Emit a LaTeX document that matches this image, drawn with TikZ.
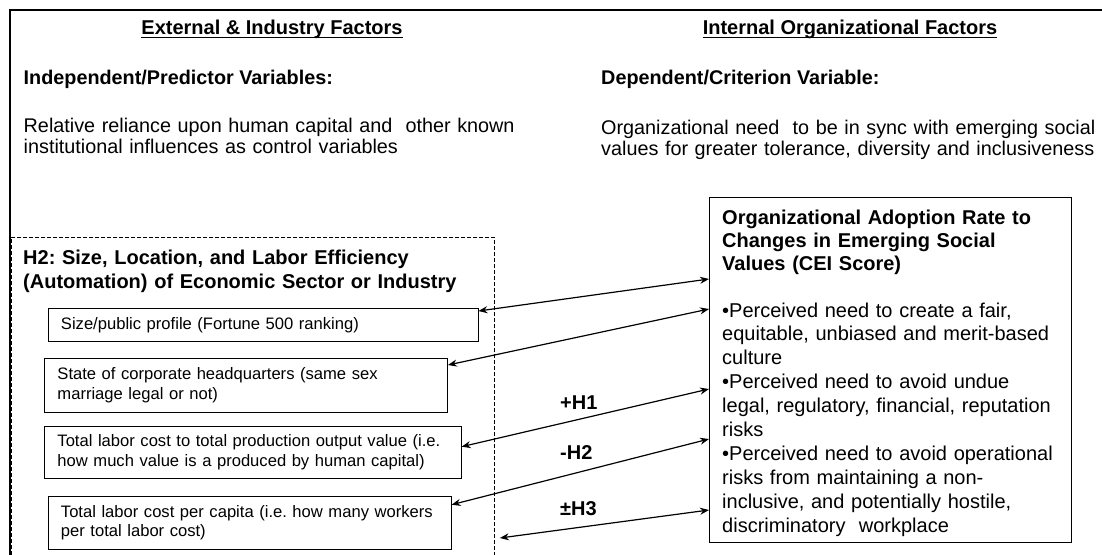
\documentclass[tikz,border=0pt]{standalone}
\usepackage{fontspec}
\setmainfont{Liberation Sans}
\usetikzlibrary{arrows.meta,calc}
\begin{document}
\frenchspacing
\begin{tikzpicture}[x=1pt,y=-1pt,
  txt/.style={anchor=base west, inner sep=0pt, align=left},
  body/.style={txt, font=\fontsize{19.8}{21}\selectfont},
  bodyb/.style={txt, font=\bfseries\fontsize{19.8}{21}\selectfont},
  head/.style={anchor=base, inner sep=0pt, font=\bfseries\fontsize{20}{21}\selectfont},
  ubar/.style={line width=1.2pt},
  frameline/.style={line width=2pt},
  dashbox/.style={draw, line width=0.9pt, dash pattern=on 4pt off 2pt, anchor=north west, inner sep=0pt},
  varbox/.style={draw, line width=0.9pt, anchor=north west, inner xsep=13pt, inner ysep=0pt, align=left, font=\fontsize{16.6}{19.8}\selectfont},
  rbox/.style={draw, line width=1.2pt, anchor=north west, inner sep=0pt},
  rtitle/.style={txt, font=\bfseries\fontsize{20}{23}\selectfont},
  rbody/.style={txt, font=\fontsize{20}{23.9}\selectfont},
  lab/.style={txt, font=\bfseries\fontsize{20}{24}\selectfont},
  biarrow/.style={line width=1.2pt, {Stealth[length=9pt,width=7pt]}-{Stealth[length=9pt,width=7pt]}}
]
\useasboundingbox (0,0) rectangle (1102,554);
\fill[white] (0,0) rectangle (1102,554);
% outer frame
\draw[frameline] (9.5,570) -- (9.5,10) -- (1120,10);

% headings
\node[head] (hext) at (272,34.5) {External \& Industry Factors};
\draw[ubar] ($(hext.base west)+(0,3)$) -- ($(hext.base east)+(0,3)$);
\node[head] (hint) at (850,34.5) {Internal Organizational Factors};
\draw[ubar] ($(hint.base west)+(0,3)$) -- ($(hint.base east)+(0,3)$);

\node[bodyb] (indep) at (23.5,84) {Independent/Predictor Variables:};
\node[body, text width=540pt] (rel) at (23.5,132) {Relative reliance upon human capital and\ \ other known\\institutional influences as control variables};
\node[bodyb] (dep) at (601,84) {Dependent/Criterion Variable:};
\node[body, text width=520pt] (org) at (601,134) {Organizational need\ \ to be in sync with emerging social\\values for greater tolerance, diversity and inclusiveness};

% dashed group box
\node[dashbox, minimum width=483pt, minimum height=340pt] (D) at (11,237) {};
\node[txt, font=\bfseries\fontsize{20}{24}\selectfont, text width=470pt] (h2) at (23,264) {H2: Size, Location, and Labor Efficiency\\(Automation) of Economic Sector or Industry};

% variable boxes
\node[varbox, text width=404pt, minimum height=33pt] (b1) at (47.5,308) {Size/public profile (Fortune 500 ranking)};
\node[varbox, text width=377pt, minimum height=54pt] (b2) at (44,358) {State of corporate headquarters (same sex\\marriage legal or not)};
\node[varbox, text width=390.7pt, minimum height=52.6pt] (b3) at (44,425.7) {Total labor cost to total production output value (i.e.\\how much value is a produced by human capital)};
\node[varbox, text width=377.2pt, minimum height=53.3pt] (b4) at (47.5,495.7) {Total labor cost per capita (i.e. how many workers\\per total labor cost)};

% right box
\node[rbox, minimum width=362pt, minimum height=345pt] (R) at (709,197) {};
\node[rtitle, text width=345pt] (rt) at (722,224) {Organizational Adoption Rate to\\Changes in Emerging Social\\Values (CEI Score)};
\node[rbody, text width=345pt] (rb) at (722,317) {•Perceived need to create a fair,\\equitable, unbiased and merit-based\\culture\\•Perceived need to avoid undue\\legal, regulatory, financial, reputation\\risks\\•Perceived need to avoid operational\\risks from maintaining a non-\\inclusive, and potentially hostile,\\discriminatory\ \ workplace};

% connectors
\draw[biarrow] ([yshift=-82pt]R.north west) -- ([yshift=-3pt]b1.north east);
\draw[biarrow] ([yshift=-112pt]R.north west) -- ([yshift=-7pt]b2.north east);
\draw[biarrow] ([yshift=-192pt]R.north west) -- ([yshift=-21pt]b3.north east);
\draw[biarrow] ([yshift=-242pt]R.north west) -- ([yshift=-9pt]b4.north east);
\draw[biarrow] ([yshift=-313pt]R.north west) -- ([xshift=5pt,yshift=-301pt]D.north east);

% labels
\node[lab] (l1) at (560,409) {+H1};
\node[lab] (l2) at (560,459) {-H2};
\node[lab] (l3) at (560,515) {±H3};
\end{tikzpicture}
\end{document}
